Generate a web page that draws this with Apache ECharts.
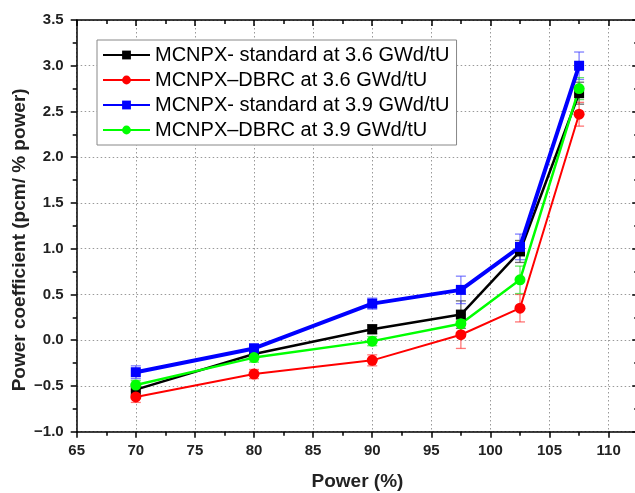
<!DOCTYPE html>
<html>
<head>
<meta charset="utf-8">
<script src="https://cdn.jsdelivr.net/npm/echarts@6/dist/echarts.min.js"></script>
<style>html,body{margin:0;padding:0;background:#fff}#c{width:635px;height:493px}</style>
</head>
<body>
<div id="c"></div>
<script>
const power = [70, 80, 90, 97.5, 102.5, 107.5];
const seriesNames = [
  'MCNPX- standard at 3.6 GWd/tU',
  'MCNPX\u2013DBRC at 3.6 GWd/tU',
  'MCNPX- standard at 3.9 GWd/tU',
  'MCNPX\u2013DBRC at 3.9 GWd/tU'
];
const std36 = [-0.54, -0.15, 0.12, 0.28, 0.97, 2.70];
const dbrc36 = [-0.62, -0.37, -0.22, 0.06, 0.35, 2.47];
const std39 = [-0.35, -0.09, 0.40, 0.55, 1.02, 3.00];
const dbrc39 = [-0.49, -0.19, -0.01, 0.18, 0.66, 2.75];
const errStd36 = [0.06, 0.05, 0.05, 0.15, 0.12, 0.12];
const errDbrc36 = [0.06, 0.05, 0.06, 0.15, 0.15, 0.13];
const errStd39 = [0.07, 0.05, 0.06, 0.15, 0.14, 0.15];
const errDbrc39 = [0.05, 0.05, 0.05, 0.10, 0.15, 0.12];
const xTicks = [65, 70, 75, 80, 85, 90, 95, 100, 105, 110];
const yTicks = [-1.0, -0.5, 0.0, 0.5, 1.0, 1.5, 2.0, 2.5, 3.0, 3.5];

const FONT = '"Liberation Sans", Arial, sans-serif';
const colors = ['#000000', '#ff0000', '#0000ff', '#00ff00'];
const errColors = ['rgba(60,60,60,0.75)', 'rgba(255,60,60,0.7)', 'rgba(60,60,255,0.65)', 'rgba(40,220,40,0.7)'];
const vals = [std36, dbrc36, std39, dbrc39];
const errs = [errStd36, errDbrc36, errStd39, errDbrc39];
const symbols = ['rect', 'circle', 'rect', 'circle'];
const symSizes = [10, 11, 10, 11];
const widths = [2.5, 2, 4, 2.5];

function errSeries(i) {
  return {
    type: 'custom',
    z: 3,
    silent: true,
    data: power.map((p, k) => [p, vals[i][k], errs[i][k]]),
    renderItem: function (params, api) {
      const x = api.value(0), y = api.value(1), e = api.value(2);
      const top = api.coord([x, y + e]);
      const bot = api.coord([x, y - e]);
      const w = 5;
      const st = { stroke: errColors[i], lineWidth: 1.3 };
      return {
        type: 'group',
        children: [
          { type: 'line', shape: { x1: top[0], y1: top[1], x2: bot[0], y2: bot[1] }, style: st },
          { type: 'line', shape: { x1: top[0] - w, y1: top[1], x2: top[0] + w, y2: top[1] }, style: st },
          { type: 'line', shape: { x1: bot[0] - w, y1: bot[1], x2: bot[0] + w, y2: bot[1] }, style: st }
        ]
      };
    }
  };
}

function lineSeries(i) {
  return {
    name: seriesNames[i],
    type: 'line',
    z: 4,
    data: power.map((p, k) => [p, vals[i][k]]),
    symbol: symbols[i],
    symbolSize: symSizes[i],
    showAllSymbol: true,
    lineStyle: { color: colors[i], width: widths[i] },
    itemStyle: { color: colors[i] },
    emphasis: { disabled: true }
  };
}

const chart = echarts.init(document.getElementById('c'), null, { renderer: 'canvas' });
const axisCommonX = { type: 'value', min: 65, max: 112.5, interval: 5 };
chart.setOption({
  animation: false,
  backgroundColor: '#fff',
  textStyle: { fontFamily: FONT },
  grid: { left: 76.7, top: 20, width: 561.5, bottom: 61.3, containLabel: false, outerBoundsMode: 'none' },
  legend: {
    data: seriesNames,
    orient: 'vertical',
    left: 97, top: 40,
    backgroundColor: '#fff',
    borderColor: '#888', borderWidth: 1, borderRadius: 0,
    padding: [5, 7, 5, 5],
    itemWidth: 47, itemHeight: 11, itemGap: 5,
    textStyle: { fontFamily: FONT, fontSize: 20, color: '#000', lineHeight: 20 }
  },
  xAxis: [
    Object.assign({}, axisCommonX, {
      position: 'bottom',
      name: 'Power (%)', nameLocation: 'middle', nameGap: 41, nameMoveOverlap: false,
      nameTextStyle: { fontFamily: FONT, fontSize: 19, fontWeight: 'bold', color: '#222' },
      axisLine: { show: true, onZero: false, lineStyle: { color: '#000', width: 1.5 } },
      axisTick: { show: true, inside: false, length: 6, lineStyle: { color: '#000', width: 1.5 } },
      minorTick: { show: true, splitNumber: 2, length: 4, lineStyle: { color: '#000', width: 1.5 } },
      axisLabel: { fontFamily: FONT, fontSize: 15, fontWeight: 'bold', color: '#222', margin: 12, showMaxLabel: false,
        formatter: v => (xTicks.indexOf(v) >= 0 ? String(v) : '') },
      splitLine: { show: true, lineStyle: { color: '#999', type: [1.5, 2.5], width: 1 } }
    }),
    Object.assign({}, axisCommonX, {
      position: 'top',
      axisLine: { show: true, onZero: false, lineStyle: { color: '#000', width: 1.5 } },
      axisTick: { show: true, inside: true, length: 6, lineStyle: { color: '#000', width: 1.5 } },
      minorTick: { show: true, splitNumber: 2, length: 4, lineStyle: { color: '#000', width: 1.5 } },
      axisLabel: { show: false },
      splitLine: { show: false }
    })
  ],
  yAxis: [
    {
      type: 'value', min: -1, max: 3.5, interval: 0.5,
      position: 'left',
      name: 'Power coefficient (pcm/ % power)', nameLocation: 'middle', nameGap: 47, nameMoveOverlap: false,
      nameTextStyle: { fontFamily: FONT, fontSize: 19, fontWeight: 'bold', color: '#222', padding: [0, 28, 0, 0] },
      axisLine: { show: true, onZero: false, lineStyle: { color: '#000', width: 1.5 } },
      axisTick: { show: true, inside: false, length: 6, lineStyle: { color: '#000', width: 1.5 } },
      minorTick: { show: true, splitNumber: 2, length: 4, lineStyle: { color: '#000', width: 1.5 } },
      axisLabel: { fontFamily: FONT, fontSize: 15, fontWeight: 'bold', color: '#222', margin: 13,
        formatter: v => yTicks.some(t => Math.abs(t - v) < 1e-9) ? v.toFixed(1).replace('-', '\u2212') : '' },
      splitLine: { show: true, lineStyle: { color: '#999', type: [1.5, 2.5], width: 1 } }
    },
    {
      type: 'value', min: -1, max: 3.5, interval: 0.5,
      position: 'right',
      axisLine: { show: true, onZero: false, lineStyle: { color: '#000', width: 1.5 } },
      axisTick: { show: true, inside: true, length: 6, lineStyle: { color: '#000', width: 1.5 } },
      minorTick: { show: true, splitNumber: 2, length: 4, lineStyle: { color: '#000', width: 1.5 } },
      axisLabel: { show: false },
      splitLine: { show: false }
    }
  ],
  series: [
    errSeries(0), errSeries(1), errSeries(2), errSeries(3),
    lineSeries(0), lineSeries(1), lineSeries(2), lineSeries(3)
  ]
});
</script>
</body>
</html>
